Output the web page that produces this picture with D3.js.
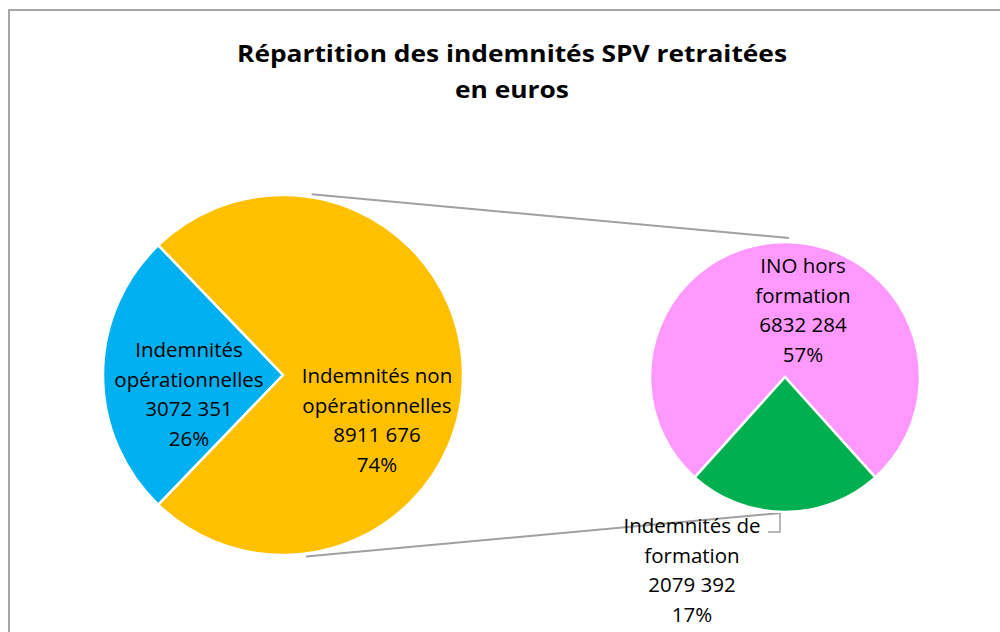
<!DOCTYPE html>
<html><head><meta charset="utf-8">
<script src="https://cdn.jsdelivr.net/npm/d3@7"></script>
<style>
html,body{margin:0;padding:0;background:#fff;}
svg{display:block;}
text{font-family:"Open Sans",Lato,sans-serif;fill:#000;}
</style></head>
<body>
<svg id="chart" width="1000" height="632"></svg>
<script>
const titleLines = ["Répartition des indemnités SPV retraitées", "en euros"];
const mainCategories = ["Indemnités opérationnelles", "Indemnités non opérationnelles"];
const mainLabelLines = [["Indemnités", "opérationnelles"], ["Indemnités non", "opérationnelles"]];
const mainValues = [3072351, 8911676];
const mainPercents = ["26%", "74%"];
const mainColors = ["#00B0F0", "#FFC000"];

const subCategories = ["INO hors formation", "Indemnités de formation"];
const subLabelLines = [["INO hors", "formation"], ["Indemnités de", "formation"]];
const subValues = [6832284, 2079392];
const subPercents = ["57%", "17%"];
const subColors = ["#FF99FF", "#00B050"];

const fmt = v => { const s = String(v); return s.slice(0, s.length-3) + " " + s.slice(-3); };

const svg = d3.select("#chart");

// chart area border
svg.append("path").attr("d", "M9,640 L9,10 L1010,10")
  .attr("fill","none").attr("stroke","#a6a6a6").attr("stroke-width",2);

// title
const t1 = svg.append("text").attr("x", 512).attr("y", 62).attr("text-anchor","middle")
  .style("font-weight","bold").style("font-size","24px").text(titleLines[0]);
const t2 = svg.append("text").attr("x", 512).attr("y", 98).attr("text-anchor","middle")
  .style("font-weight","bold").style("font-size","24px").text(titleLines[1]);
const w1 = t1.node().getComputedTextLength();
const k = 550 / w1;
t1.attr("textLength", 550).attr("lengthAdjust","spacingAndGlyphs");
t2.attr("textLength", t2.node().getComputedTextLength()*k).attr("lengthAdjust","spacingAndGlyphs");

const mainC = {x: 283, y: 375, r: 180};
const subC = {x: 785, y: 377, r: 135};

const mainTotal = d3.sum(mainValues);
const blueSpan = 2*Math.PI*mainValues[0]/mainTotal;
const m0 = 1.5*Math.PI - blueSpan/2;
const mainPie = d3.pie().sort(null).startAngle(m0).endAngle(m0 + 2*Math.PI);
const mainArcs = mainPie(mainValues);
const mainArc = d3.arc().innerRadius(0).outerRadius(mainC.r);

const subTotal = d3.sum(subValues);
const greenSpan = 2*Math.PI*subValues[1]/subTotal;
const s0 = Math.PI + greenSpan/2;
const subPie = d3.pie().sort(null).startAngle(s0).endAngle(s0 + 2*Math.PI);
const subArcs = subPie(subValues);
const subArc = d3.arc().innerRadius(0).outerRadius(subC.r);

// connector lines
const off = 9*Math.PI/180;
const pt = (c, a, r) => [c.x + r*Math.sin(a), c.y - r*Math.cos(a)];
const conn = [
  [pt(mainC, off, mainC.r+3), [subC.x+4, subC.y - subC.r - 4]],
  [pt(mainC, Math.PI - off*0.8, mainC.r+3), [subC.x-4, subC.y + subC.r + 1]]
];
svg.selectAll("line.conn").data(conn).enter().append("line")
  .attr("class","conn")
  .attr("x1", d=>d[0][0]).attr("y1", d=>d[0][1])
  .attr("x2", d=>d[1][0]).attr("y2", d=>d[1][1])
  .attr("stroke","#a0a0a0").attr("stroke-width",2);

const gMain = svg.append("g").attr("transform", `translate(${mainC.x},${mainC.y})`);
gMain.selectAll("path").data(mainArcs).enter().append("path")
  .attr("d", mainArc).attr("fill", (d,i)=>mainColors[i])
  .attr("stroke","#fff").attr("stroke-width",2.5).attr("stroke-linejoin","miter");

const gSub = svg.append("g").attr("transform", `translate(${subC.x},${subC.y})`);
gSub.selectAll("path").data(subArcs).enter().append("path")
  .attr("d", subArc).attr("fill", (d,i)=>subColors[i])
  .attr("stroke","#fff").attr("stroke-width",2.5).attr("stroke-linejoin","miter");

// labels
const lh = 29.5;
function label(x, yFirst, lines) {
  const t = svg.append("text").attr("text-anchor","middle").style("font-size","20.5px");
  lines.forEach((s,i)=> t.append("tspan").attr("x", x).attr("y", yFirst + i*lh).text(s));
}
label(189, 357, [...mainLabelLines[0], fmt(mainValues[0]), mainPercents[0]]);
label(377, 383, [...mainLabelLines[1], fmt(mainValues[1]), mainPercents[1]]);
label(803, 273, [...subLabelLines[0], fmt(subValues[0]), subPercents[0]]);
label(692, 533, [...subLabelLines[1], fmt(subValues[1]), subPercents[1]]);

// leader for green label
svg.append("path").attr("d", `M${subC.x-5},${subC.y+subC.r+1} L${subC.x-5},532 L768,532`)
  .attr("fill","none").attr("stroke","#a0a0a0").attr("stroke-width",1.5);
</script>
</body></html>
